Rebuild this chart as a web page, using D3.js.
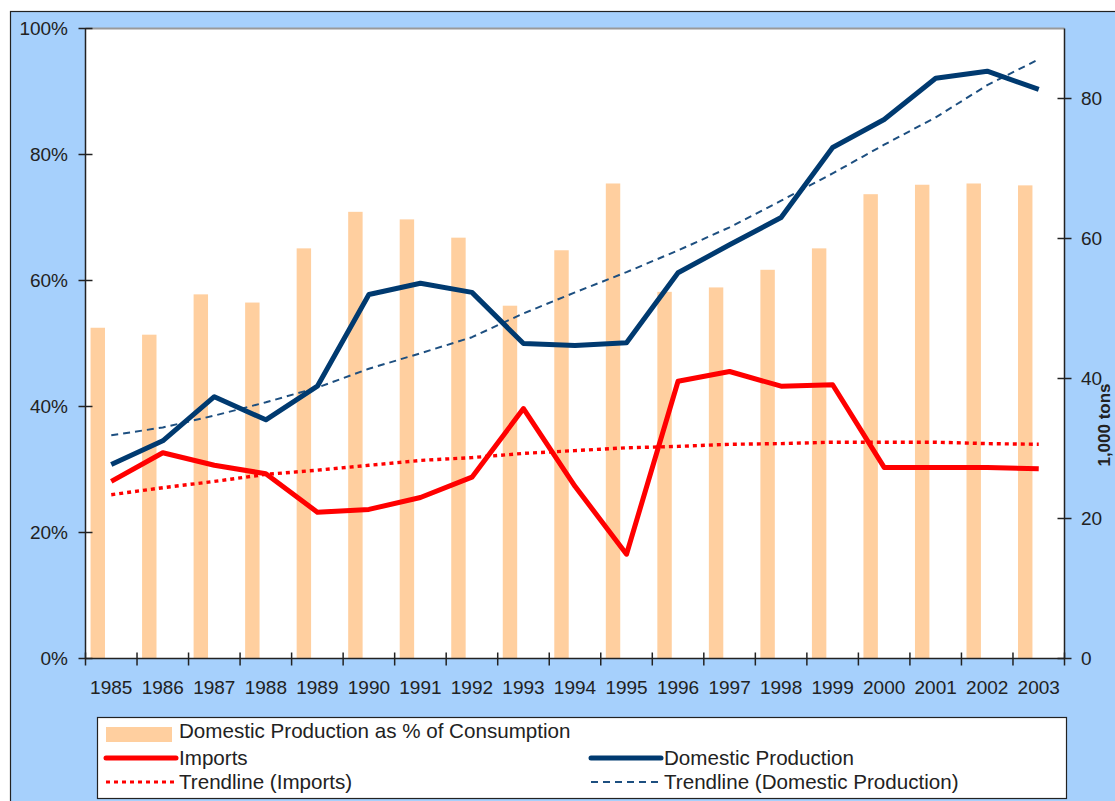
<!DOCTYPE html>
<html>
  <head>
    <meta charset="utf-8">
    <title>Domestic production and imports</title>
    <script src="https://d3js.org/d3.v7.min.js"></script>
    <style>
      body { margin: 0; background: #fff; }
      svg text { font-family: "Liberation Sans", Arial, sans-serif; fill: #222; }
    </style>
  </head>
  <body>
    <div id="vis"></div>
    <script>
        const width = 1115;
        const height = 801;

        // values
        const years = ["1985", "1986", "1987", "1988", "1989", "1990", "1991", "1992", "1993", "1994",
                       "1995", "1996", "1997", "1998", "1999", "2000", "2001", "2002", "2003"];
        // % of consumption (left axis)
        const shareOfConsumption = [52.5, 51.4, 57.8, 56.5, 65.1, 70.9, 69.7, 66.8, 56.0, 64.8,
                                    75.4, 58.2, 58.9, 61.7, 65.1, 73.7, 75.2, 75.4, 75.1];
        // 1,000 tons (right axis)
        const domesticProduction = [27.7, 31.1, 37.4, 34.1, 38.9, 52.0, 53.6, 52.3, 45.0, 44.7,
                                    45.1, 55.1, 59.1, 63.0, 73.0, 77.0, 82.9, 83.9, 81.3];
        const imports = [25.3, 29.4, 27.6, 26.4, 20.9, 21.3, 23.0, 25.9, 35.7, 24.6,
                         14.9, 39.6, 41.0, 38.9, 39.1, 27.3, 27.3, 27.3, 27.1];
        const importsTrend = [23.4, 24.4, 25.3, 26.3, 26.9, 27.6, 28.3, 28.7, 29.3, 29.7,
                              30.1, 30.3, 30.6, 30.7, 30.9, 30.9, 30.9, 30.7, 30.6];
        const domesticTrend = [31.9, 33.0, 34.7, 36.6, 38.7, 41.4, 43.6, 45.9, 49.3, 52.3,
                               55.2, 58.3, 61.6, 65.4, 69.3, 73.4, 77.3, 81.9, 85.6];
        const pctTicks = [0, 20, 40, 60, 80, 100];
        const tonTicks = [0, 20, 40, 60, 80];

        const plot = {left: 85.5, right: 1064.5, top: 28.5, bottom: 658.5};

        const vis = d3.select("#vis").append("svg").attr("width", width).attr("height", height);

        // chart area
        vis.append("rect").attr("x", 10.5).attr("y", 11.5).attr("width", 1200).attr("height", 900)
          .attr("fill", "#a6d0fc").attr("stroke", "#222").attr("stroke-width", 1.2);
        vis.append("rect").attr("x", plot.left).attr("y", plot.top)
          .attr("width", plot.right - plot.left).attr("height", plot.bottom - plot.top)
          .attr("fill", "#fff");
        vis.append("line").attr("x1", plot.left).attr("x2", plot.right)
          .attr("y1", plot.top).attr("y2", plot.top)
          .attr("stroke", "#999").attr("stroke-width", 2);

        const x = d3.scaleBand().domain(years).range([plot.left, plot.right]).padding(0);
        const yPct = d3.scaleLinear().domain([0, 100]).range([plot.bottom, plot.top]);
        const yTon = d3.scaleLinear().domain([0, 90]).range([plot.bottom, plot.top]);
        const bw = x.bandwidth();
        const cx = d => x(d) + bw / 2;

        // bars
        vis.append("g").selectAll("rect")
          .data(years)
          .enter()
          .append("rect")
          .attr("x", (d, i) => cx(d) - bw * 0.262 - bw * 0.14)
          .attr("width", bw * 0.28)
          .attr("y", (d, i) => yPct(shareOfConsumption[i]))
          .attr("height", (d, i) => plot.bottom - yPct(shareOfConsumption[i]))
          .attr("fill", "#ffcf9f");

        function series(values, color, w, dash) {
          const line = d3.line().x((d, i) => cx(years[i])).y(d => yTon(d));
          const p = vis.append("path").datum(values)
            .attr("d", line)
            .attr("fill", "none")
            .attr("stroke", color)
            .attr("stroke-width", w)
            .attr("stroke-linejoin", "round");
          if (dash) p.attr("stroke-dasharray", dash);
          return p;
        }

        series(importsTrend, "#ff0000", 3.4, "4,4");
        series(domesticTrend, "#1d4f80", 2, "7,5");
        series(imports, "#ff0000", 5);
        series(domesticProduction, "#003a70", 5);

        // axes (cross ticks)
        const axisColor = "#222";
        const left = vis.append("g");
        left.append("line").attr("x1", plot.left).attr("x2", plot.left)
          .attr("y1", plot.top).attr("y2", plot.bottom).attr("stroke", axisColor).attr("stroke-width", 1.5);
        pctTicks.forEach(t => {
          left.append("line").attr("x1", plot.left - 7).attr("x2", plot.left + 7)
            .attr("y1", yPct(t)).attr("y2", yPct(t)).attr("stroke", axisColor).attr("stroke-width", 1.5);
          left.append("text").attr("x", 68).attr("y", yPct(t)).attr("dy", "0.36em")
            .attr("text-anchor", "end").style("font-size", "19px").text(t + "%");
        });

        const right = vis.append("g");
        right.append("line").attr("x1", plot.right).attr("x2", plot.right)
          .attr("y1", plot.top).attr("y2", plot.bottom).attr("stroke", axisColor).attr("stroke-width", 1.5);
        tonTicks.forEach(t => {
          right.append("line").attr("x1", plot.right - 7).attr("x2", plot.right + 7)
            .attr("y1", yTon(t)).attr("y2", yTon(t)).attr("stroke", axisColor).attr("stroke-width", 1.5);
          right.append("text").attr("x", 1081).attr("y", yTon(t)).attr("dy", "0.36em")
            .attr("text-anchor", "start").style("font-size", "19px").text(t);
        });
        right.append("text")
          .attr("transform", "translate(1110,425) rotate(-90)")
          .attr("text-anchor", "middle")
          .style("font-size", "17px").style("font-weight", "bold")
          .text("1,000 tons");

        const bottom = vis.append("g");
        bottom.append("line").attr("x1", plot.left).attr("x2", plot.right)
          .attr("y1", plot.bottom).attr("y2", plot.bottom).attr("stroke", axisColor).attr("stroke-width", 1.5);
        years.concat(["end"]).forEach((d, i) => {
          const tx = i < years.length ? x(d) : plot.right;
          bottom.append("line").attr("x1", tx).attr("x2", tx)
            .attr("y1", plot.bottom - 6).attr("y2", plot.bottom + 7)
            .attr("stroke", axisColor).attr("stroke-width", 1.5);
        });
        bottom.selectAll("text.yr").data(years).enter().append("text")
          .attr("class", "yr")
          .attr("x", d => cx(d)).attr("y", 694)
          .attr("text-anchor", "middle").style("font-size", "19px")
          .text(d => d);

        // legend
        const lg = vis.append("g");
        lg.append("rect").attr("x", 97.5).attr("y", 717.5).attr("width", 969).attr("height", 81)
          .attr("fill", "#fff").attr("stroke", "#222").attr("stroke-width", 1.2);
        const fs = "20.6px";
        lg.append("rect").attr("x", 106).attr("y", 727).attr("width", 66).attr("height", 15).attr("fill", "#ffcf9f");
        lg.append("text").attr("x", 179).attr("y", 738).style("font-size", fs)
          .text("Domestic Production as % of Consumption");

        const legendLines = [
          {x: 106, y: 758, color: "#ff0000", w: 5, dash: null, label: "Imports"},
          {x: 591, y: 758, color: "#003a70", w: 5, dash: null, label: "Domestic Production"},
          {x: 106, y: 782, color: "#ff0000", w: 3, dash: "4,4", label: "Trendline (Imports)"},
          {x: 591, y: 782, color: "#1d4f80", w: 1.8, dash: "7,5", label: "Trendline (Domestic Production)"}
        ];
        legendLines.forEach(l => {
          const ln = lg.append("line").attr("x1", l.x).attr("x2", l.x + 70)
            .attr("y1", l.y).attr("y2", l.y)
            .attr("stroke", l.color).attr("stroke-width", l.w).attr("stroke-linecap", l.dash ? "butt" : "round");
          if (l.dash) ln.attr("stroke-dasharray", l.dash);
          lg.append("text").attr("x", l.x + 73).attr("y", l.y + 7).style("font-size", fs).text(l.label);
        });
    </script>
  </body>
</html>
